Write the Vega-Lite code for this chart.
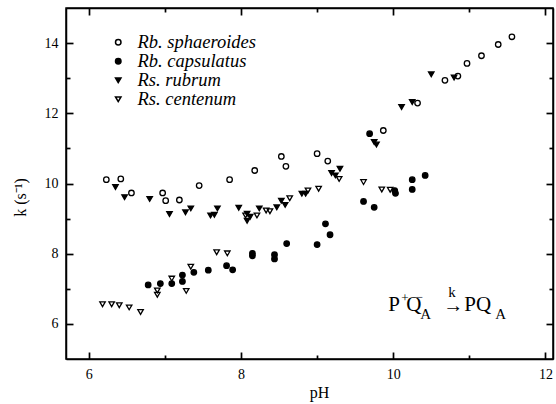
{
  "$schema": "https://vega.github.io/schema/vega-lite/v6.json",
  "width": 487,
  "height": 351,
  "autosize": {"type": "none"},
  "padding": {"left": 66, "top": 8, "right": 3, "bottom": 45},
  "background": "white",
  "config": {
    "view": {"stroke": "black", "strokeWidth": 1.5},
    "font": "Liberation Serif",
    "axis": {"grid": false, "labelColor": "black", "titleColor": "black", "labelFont": "Liberation Serif", "titleFont": "Liberation Serif"}
  },
  "datasets": {
    "pts": [
      {"pH": 6.23, "k": 10.11, "species": "Rb. sphaeroides"},
      {"pH": 6.42, "k": 10.13, "species": "Rb. sphaeroides"},
      {"pH": 6.56, "k": 9.73, "species": "Rb. sphaeroides"},
      {"pH": 6.97, "k": 9.73, "species": "Rb. sphaeroides"},
      {"pH": 7.01, "k": 9.51, "species": "Rb. sphaeroides"},
      {"pH": 7.19, "k": 9.53, "species": "Rb. sphaeroides"},
      {"pH": 7.45, "k": 9.94, "species": "Rb. sphaeroides"},
      {"pH": 7.85, "k": 10.11, "species": "Rb. sphaeroides"},
      {"pH": 8.18, "k": 10.37, "species": "Rb. sphaeroides"},
      {"pH": 8.53, "k": 10.77, "species": "Rb. sphaeroides"},
      {"pH": 8.59, "k": 10.49, "species": "Rb. sphaeroides"},
      {"pH": 9.0, "k": 10.85, "species": "Rb. sphaeroides"},
      {"pH": 9.14, "k": 10.64, "species": "Rb. sphaeroides"},
      {"pH": 9.87, "k": 11.51, "species": "Rb. sphaeroides"},
      {"pH": 10.32, "k": 12.29, "species": "Rb. sphaeroides"},
      {"pH": 10.68, "k": 12.94, "species": "Rb. sphaeroides"},
      {"pH": 10.85, "k": 13.06, "species": "Rb. sphaeroides"},
      {"pH": 10.97, "k": 13.42, "species": "Rb. sphaeroides"},
      {"pH": 11.16, "k": 13.64, "species": "Rb. sphaeroides"},
      {"pH": 11.38, "k": 13.96, "species": "Rb. sphaeroides"},
      {"pH": 11.56, "k": 14.18, "species": "Rb. sphaeroides"},
      {"pH": 6.78, "k": 7.11, "species": "Rb. capsulatus"},
      {"pH": 6.94, "k": 7.15, "species": "Rb. capsulatus"},
      {"pH": 7.09, "k": 7.15, "species": "Rb. capsulatus"},
      {"pH": 7.23, "k": 7.39, "species": "Rb. capsulatus"},
      {"pH": 7.23, "k": 7.21, "species": "Rb. capsulatus"},
      {"pH": 7.38, "k": 7.47, "species": "Rb. capsulatus"},
      {"pH": 7.57, "k": 7.53, "species": "Rb. capsulatus"},
      {"pH": 7.81, "k": 7.66, "species": "Rb. capsulatus"},
      {"pH": 7.89, "k": 7.54, "species": "Rb. capsulatus"},
      {"pH": 8.15, "k": 8.01, "species": "Rb. capsulatus"},
      {"pH": 8.15, "k": 7.94, "species": "Rb. capsulatus"},
      {"pH": 8.44, "k": 7.97, "species": "Rb. capsulatus"},
      {"pH": 8.44, "k": 7.85, "species": "Rb. capsulatus"},
      {"pH": 8.6, "k": 8.29, "species": "Rb. capsulatus"},
      {"pH": 9.0, "k": 8.26, "species": "Rb. capsulatus"},
      {"pH": 9.11, "k": 8.85, "species": "Rb. capsulatus"},
      {"pH": 9.17, "k": 8.54, "species": "Rb. capsulatus"},
      {"pH": 9.61, "k": 9.49, "species": "Rb. capsulatus"},
      {"pH": 9.75, "k": 9.32, "species": "Rb. capsulatus"},
      {"pH": 10.02, "k": 9.8, "species": "Rb. capsulatus"},
      {"pH": 10.03, "k": 9.72, "species": "Rb. capsulatus"},
      {"pH": 10.25, "k": 10.11, "species": "Rb. capsulatus"},
      {"pH": 10.25, "k": 9.83, "species": "Rb. capsulatus"},
      {"pH": 10.42, "k": 10.23, "species": "Rb. capsulatus"},
      {"pH": 9.69, "k": 11.42, "species": "Rb. capsulatus"},
      {"pH": 6.35, "k": 9.9, "species": "Rs. rubrum"},
      {"pH": 6.47, "k": 9.61, "species": "Rs. rubrum"},
      {"pH": 6.8, "k": 9.56, "species": "Rs. rubrum"},
      {"pH": 7.06, "k": 9.13, "species": "Rs. rubrum"},
      {"pH": 7.27, "k": 9.18, "species": "Rs. rubrum"},
      {"pH": 7.34, "k": 9.29, "species": "Rs. rubrum"},
      {"pH": 7.6, "k": 9.09, "species": "Rs. rubrum"},
      {"pH": 7.65, "k": 9.11, "species": "Rs. rubrum"},
      {"pH": 7.69, "k": 9.29, "species": "Rs. rubrum"},
      {"pH": 7.97, "k": 9.31, "species": "Rs. rubrum"},
      {"pH": 8.08, "k": 9.14, "species": "Rs. rubrum"},
      {"pH": 8.08, "k": 8.94, "species": "Rs. rubrum"},
      {"pH": 8.12, "k": 9.05, "species": "Rs. rubrum"},
      {"pH": 8.24, "k": 9.29, "species": "Rs. rubrum"},
      {"pH": 8.47, "k": 9.32, "species": "Rs. rubrum"},
      {"pH": 8.53, "k": 9.51, "species": "Rs. rubrum"},
      {"pH": 8.58, "k": 9.39, "species": "Rs. rubrum"},
      {"pH": 8.8, "k": 9.71, "species": "Rs. rubrum"},
      {"pH": 8.85, "k": 9.71, "species": "Rs. rubrum"},
      {"pH": 9.19, "k": 10.3, "species": "Rs. rubrum"},
      {"pH": 9.24, "k": 10.23, "species": "Rs. rubrum"},
      {"pH": 9.3, "k": 10.42, "species": "Rs. rubrum"},
      {"pH": 9.75, "k": 11.18, "species": "Rs. rubrum"},
      {"pH": 9.78, "k": 11.11, "species": "Rs. rubrum"},
      {"pH": 10.11, "k": 12.18, "species": "Rs. rubrum"},
      {"pH": 10.25, "k": 12.32, "species": "Rs. rubrum"},
      {"pH": 10.5, "k": 13.11, "species": "Rs. rubrum"},
      {"pH": 10.8, "k": 13.02, "species": "Rs. rubrum"},
      {"pH": 6.18, "k": 6.56, "species": "Rs. centenum"},
      {"pH": 6.3, "k": 6.56, "species": "Rs. centenum"},
      {"pH": 6.4, "k": 6.53, "species": "Rs. centenum"},
      {"pH": 6.53, "k": 6.47, "species": "Rs. centenum"},
      {"pH": 6.68, "k": 6.34, "species": "Rs. centenum"},
      {"pH": 6.9, "k": 6.95, "species": "Rs. centenum"},
      {"pH": 6.9, "k": 6.83, "species": "Rs. centenum"},
      {"pH": 7.09, "k": 7.29, "species": "Rs. centenum"},
      {"pH": 7.28, "k": 6.94, "species": "Rs. centenum"},
      {"pH": 7.34, "k": 7.63, "species": "Rs. centenum"},
      {"pH": 7.68, "k": 8.04, "species": "Rs. centenum"},
      {"pH": 7.82, "k": 8.01, "species": "Rs. centenum"},
      {"pH": 8.06, "k": 9.09, "species": "Rs. centenum"},
      {"pH": 8.21, "k": 9.09, "species": "Rs. centenum"},
      {"pH": 8.33, "k": 9.23, "species": "Rs. centenum"},
      {"pH": 8.38, "k": 9.21, "species": "Rs. centenum"},
      {"pH": 8.64, "k": 9.58, "species": "Rs. centenum"},
      {"pH": 8.88, "k": 9.8, "species": "Rs. centenum"},
      {"pH": 9.02, "k": 9.85, "species": "Rs. centenum"},
      {"pH": 9.29, "k": 10.13, "species": "Rs. centenum"},
      {"pH": 9.61, "k": 10.04, "species": "Rs. centenum"},
      {"pH": 9.85, "k": 9.83, "species": "Rs. centenum"},
      {"pH": 9.96, "k": 9.82, "species": "Rs. centenum"}
    ],
    "anchor": [{"pH": 9.935, "k": 6.37}]
  },
  "data": {"name": "pts"},
  "resolve": {"axis": {"x": "independent", "y": "independent"}},
  "layer": [
    {
      "mark": {"type": "point", "size": 30, "strokeWidth": 1.3, "stroke": "black", "opacity": 1},
      "encoding": {
        "x": {"field": "pH", "type": "quantitative", "scale": {"domain": [5.7, 12.1], "nice": false, "zero": false},
          "axis": {"orient": "bottom", "values": [6, 7, 8, 9, 10, 11, 12], "labelExpr": "datum.value % 2 == 0 ? datum.label : ''",
            "domain": true, "domainColor": "black", "domainWidth": 1.5, "ticks": true, "tickColor": "black",
            "tickSize": {"condition": {"test": "datum.value % 2 == 0", "value": -7}, "value": -4}, "tickWidth": 1.7,
            "labelPadding": 15, "labelFontSize": 14, "labelFlush": false, "title": "pH", "titleFontSize": 16, "titleFontWeight": "normal", "titleX": 253, "titleY": 25, "titleBaseline": "top"}},
        "y": {"field": "k", "type": "quantitative", "scale": {"domain": [5, 15], "nice": false, "zero": false},
          "axis": {"orient": "left", "values": [6, 7, 8, 9, 10, 11, 12, 13, 14], "labelExpr": "datum.value % 2 == 0 ? datum.label : ''",
            "domain": true, "domainColor": "black", "domainWidth": 1.5, "ticks": true, "tickColor": "black",
            "tickSize": {"condition": {"test": "datum.value % 2 == 0", "value": -7}, "value": -4}, "tickWidth": 1.7,
            "labelPadding": 15, "labelFontSize": 14, "labelFlush": false, "title": "k (s⁻¹)", "titleFontSize": 16, "titleFontWeight": "normal", "titleX": -38, "titleY": 189}},
        "shape": {"field": "species", "type": "nominal",
          "scale": {"domain": ["Rb. sphaeroides", "Rb. capsulatus", "Rs. rubrum", "Rs. centenum"], "range": ["circle", "circle", "triangle-down", "triangle-down"]},
          "legend": {"title": null, "orient": "none", "legendX": 43, "legendY": 25, "labelFont": "Liberation Serif", "labelFontSize": 18.5, "labelFontStyle": "italic", "labelColor": "black", "labelOffset": 10, "rowPadding": 0, "symbolSize": 30,
            "encode": {"symbols": {"update": {"stroke": {"value": "black"}, "strokeWidth": {"value": 1.3}}}}}},
        "fill": {"field": "species", "type": "nominal",
          "scale": {"domain": ["Rb. sphaeroides", "Rb. capsulatus", "Rs. rubrum", "Rs. centenum"], "range": ["transparent", "black", "black", "transparent"]},
          "legend": {"title": null, "orient": "none", "legendX": 43, "legendY": 25, "labelFont": "Liberation Serif", "labelFontSize": 18.5, "labelFontStyle": "italic", "labelColor": "black", "labelOffset": 10, "rowPadding": 0, "symbolSize": 30,
            "encode": {"symbols": {"update": {"stroke": {"value": "black"}, "strokeWidth": {"value": 1.3}}}}}}
      }
    },
    {
      "mark": {"type": "point", "opacity": 0},
      "encoding": {
        "x": {"field": "pH", "type": "quantitative", "axis": {"orient": "top", "values": [6, 7, 8, 9, 10, 11, 12], "labels": false,
          "domain": true, "domainColor": "black", "domainWidth": 1.5, "ticks": true, "tickColor": "black",
          "tickSize": {"condition": {"test": "datum.value % 2 == 0", "value": -7}, "value": -4}, "tickWidth": 1.7, "title": null}},
        "y": {"field": "k", "type": "quantitative", "axis": {"orient": "right", "values": [6, 7, 8, 9, 10, 11, 12, 13, 14], "labels": false,
          "domain": true, "domainColor": "black", "domainWidth": 1.5, "ticks": true, "tickColor": "black",
          "tickSize": {"condition": {"test": "datum.value % 2 == 0", "value": -7}, "value": -4}, "tickWidth": 1.7, "title": null}}
      }
    },
    {
      "data": {"name": "anchor"},
      "layer": [
        {"mark": {"type": "text", "text": "P", "fontSize": 21, "align": "left", "baseline": "alphabetic", "dx": 0, "dy": 0, "color": "black"}},
        {"mark": {"type": "text", "text": "+", "fontSize": 13, "align": "left", "baseline": "alphabetic", "dx": 13, "dy": -9, "color": "black"}},
        {"mark": {"type": "text", "text": "Q", "fontSize": 21, "align": "left", "baseline": "alphabetic", "dx": 18, "dy": 0, "color": "black"}},
        {"mark": {"type": "text", "text": "−", "fontSize": 12, "align": "left", "baseline": "alphabetic", "dx": 28, "dy": -10, "color": "black"}},
        {"mark": {"type": "text", "text": "A", "fontSize": 15, "align": "left", "baseline": "alphabetic", "dx": 32, "dy": 8, "color": "black"}},
        {"mark": {"type": "text", "text": "→", "fontSize": 20, "align": "left", "baseline": "alphabetic", "dx": 55, "dy": 1, "color": "black"}},
        {"mark": {"type": "text", "text": "k", "fontSize": 15, "align": "left", "baseline": "alphabetic", "dx": 60, "dy": -14, "color": "black"}},
        {"mark": {"type": "text", "text": "PQ", "fontSize": 21, "align": "left", "baseline": "alphabetic", "dx": 76, "dy": 0, "color": "black"}},
        {"mark": {"type": "text", "text": "A", "fontSize": 15, "align": "left", "baseline": "alphabetic", "dx": 107, "dy": 8, "color": "black"}}
      ],
      "encoding": {
        "x": {"field": "pH", "type": "quantitative", "axis": null},
        "y": {"field": "k", "type": "quantitative", "axis": null}
      }
    }
  ]
}
